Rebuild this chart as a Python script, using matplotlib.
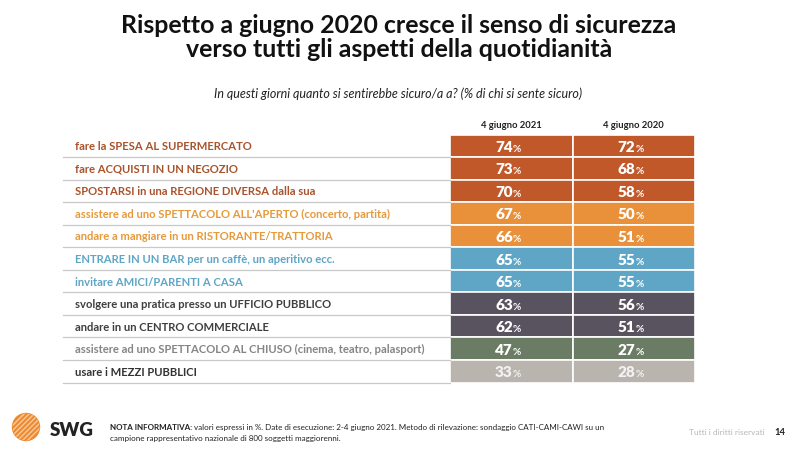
import matplotlib
matplotlib.use('Agg')
import matplotlib.pyplot as plt
from matplotlib.patches import Circle

plt.rcParams['font.family'] = ['Lato', 'DejaVu Sans']

title = 'Rispetto a giugno 2020 cresce il senso di sicurezza\nverso tutti gli aspetti della quotidianità'
subtitle = 'In questi giorni quanto si sentirebbe sicuro/a a? (% di chi si sente sicuro)'
columns = ['4 giugno 2021', '4 giugno 2020']

labels = [
    'fare la SPESA AL SUPERMERCATO',
    'fare ACQUISTI IN UN NEGOZIO',
    'SPOSTARSI in una REGIONE DIVERSA dalla sua',
    "assistere ad uno SPETTACOLO ALL'APERTO (concerto, partita)",
    'andare a mangiare in un RISTORANTE/TRATTORIA',
    'ENTRARE IN UN BAR per un caffè, un aperitivo ecc.',
    'invitare AMICI/PARENTI A CASA',
    'svolgere una pratica presso un UFFICIO PUBBLICO',
    'andare in un CENTRO COMMERCIALE',
    'assistere ad uno SPETTACOLO AL CHIUSO (cinema, teatro, palasport)',
    'usare i MEZZI PUBBLICI',
]
val_2021 = [74, 73, 70, 67, 66, 65, 65, 63, 62, 47, 33]
val_2020 = [72, 68, 58, 50, 51, 55, 55, 56, 51, 27, 28]

cell_colors = ['#C0582A', '#C0582A', '#C0582A', '#E8913A', '#E8913A',
               '#5FA5C6', '#5FA5C6', '#59525F', '#59525F', '#6A7C63', '#BAB4AE']
label_colors = ['#A9532C', '#A9532C', '#A9532C', '#E59A3C', '#E59A3C',
                '#5FA5C6', '#5FA5C6', '#3F3F3F', '#3F3F3F', '#858585', '#333333']

fig = plt.figure(figsize=(8, 4.52), dpi=100)
ax = fig.add_axes([0, 0, 1, 1])
ax.set_xlim(0, 800)
ax.set_ylim(452, 0)
ax.axis('off')

# layout (pixels)
top, row_h = 135.5, 22.55
col_left = [450, 572.5]
col_w = 122.5
line_x0 = 63

ax.text(399, 37.5, title, ha='center', va='center', fontsize=17.9,
        fontweight='bold', color='#111111', linespacing=1.1)
ax.text(398, 94, subtitle, ha='center', va='center', fontsize=9,
        style='italic', color='#222222')

for j, name in enumerate(columns):
    ax.text(col_left[j] + col_w / 2, 125, name, ha='center', va='center',
            fontsize=6.8, fontweight='bold', color='#222222')

ys = [top + (i + 0.5) * row_h for i in range(len(labels))]
for j, vals in enumerate([val_2021, val_2020]):
    ax.barh(ys, [col_w] * len(vals), left=col_left[j], height=row_h,
            color=cell_colors, edgecolor='white', linewidth=1.2)
    for y, v, c in zip(ys, vals, cell_colors):
        tc = '#F2F2F2' if c == '#BAB4AE' else 'white'
        cx = col_left[j] + col_w / 2 + 1.5
        ax.text(cx, y + 0.5, str(v), ha='right', va='center', fontsize=11,
                fontweight='heavy', color=tc)
        ax.text(cx, y + 2.5, '%', ha='left', va='center', fontsize=7.3,
                fontweight='bold', color=tc)

for i, (y, lab, lc) in enumerate(zip(ys, labels, label_colors)):
    ax.text(75, y, lab, ha='left', va='center', fontsize=8.1,
            fontweight='bold', color=lc)
    ax.plot([line_x0, col_left[0]], [y + row_h / 2, y + row_h / 2],
            color='#C8C8C8', lw=0.9)

# footer logo
logo = Circle((26, 428), 13.5, color='#EE8A2E', zorder=3)
ax.add_patch(logo)
for k in range(-3, 4):
    ax.plot([12 + k * 5, 40 + k * 5], [442, 414], color='white', lw=1.0,
            alpha=0.55, zorder=4, clip_path=logo)
ax.text(50, 431, 'SWG', ha='left', va='center', fontsize=13.5,
        fontweight='heavy', color='#222222')

fs_note = 5.8
bold_t = ax.text(110, 428, 'NOTA INFORMATIVA:', ha='left', va='center',
                 fontsize=fs_note, fontweight='bold', color='#222222')
fig.canvas.draw()
bb = bold_t.get_window_extent().transformed(ax.transData.inverted())
ax.text(bb.x1 + 2, 428, 'valori espressi in %. Date di esecuzione: 2-4 giugno 2021. '
        'Metodo di rilevazione: sondaggio CATI-CAMI-CAWI su un',
        ha='left', va='center', fontsize=fs_note, color='#222222')
ax.text(110, 439, 'campione rappresentativo nazionale di 800 soggetti maggiorenni.',
        ha='left', va='center', fontsize=fs_note, color='#222222')
ax.text(765, 433, 'Tutti i diritti riservati', ha='right', va='center',
        fontsize=6, color='#B8B8B8')
ax.text(780, 433, '14', ha='center', va='center', fontsize=6.8,
        fontweight='bold', color='#222222')

fig.savefig('out.png', dpi=100)
